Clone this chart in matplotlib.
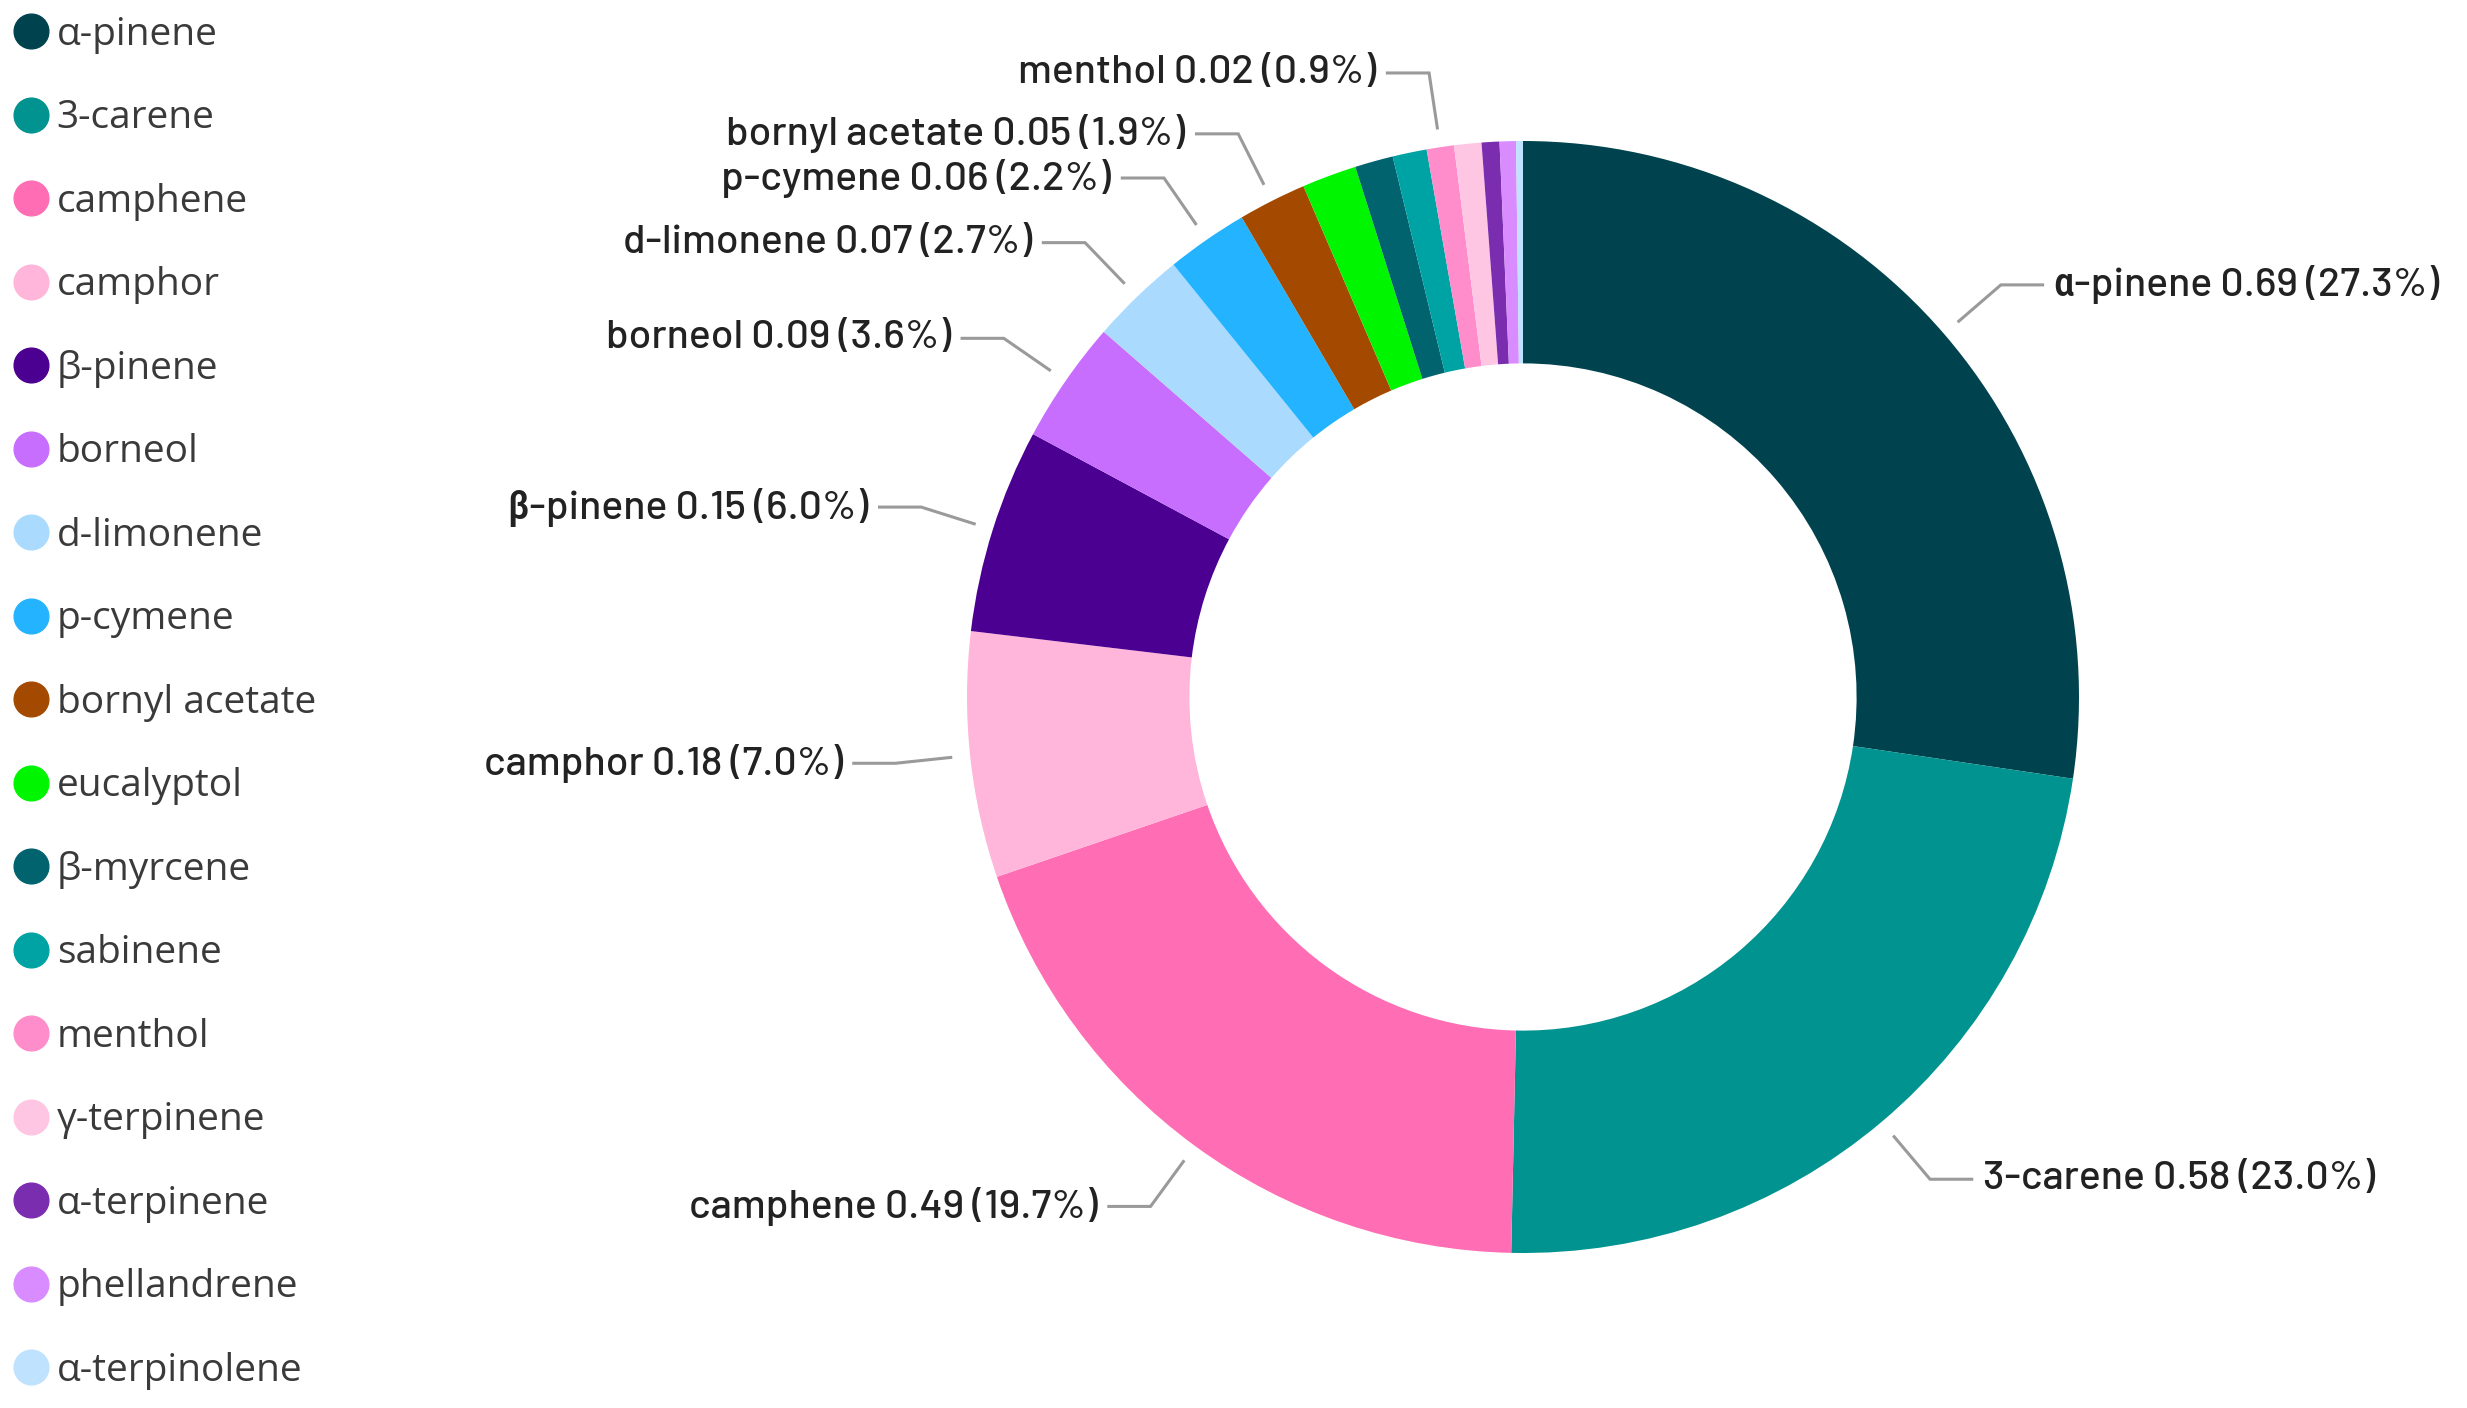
import numpy as np
import matplotlib
matplotlib.use("Agg")
import matplotlib.pyplot as plt
from matplotlib.lines import Line2D

names = ["α-pinene", "3-carene", "camphene", "camphor", "β-pinene", "borneol",
         "d-limonene", "p-cymene", "bornyl acetate", "eucalyptol", "β-myrcene",
         "sabinene", "menthol", "γ-terpinene", "α-terpinene", "phellandrene",
         "α-terpinolene"]
values = [0.69, 0.58, 0.49, 0.18, 0.15, 0.09, 0.07, 0.06, 0.05, 0.04, 0.028,
          0.025, 0.02, 0.02, 0.013, 0.012, 0.005]
value_labels = ["0.69", "0.58", "0.49", "0.18", "0.15", "0.09", "0.07", "0.06",
                "0.05", None, None, None, "0.02", None, None, None, None]
pct_labels = ["27.3%", "23.0%", "19.7%", "7.0%", "6.0%", "3.6%", "2.7%", "2.2%",
              "1.9%", None, None, None, "0.9%", None, None, None, None]
colors = ["#00434F", "#00938F", "#FF6EB4", "#FFB6DA", "#4B0092", "#C86EFF",
          "#AADBFF", "#24B4FF", "#A34A00", "#00F500", "#00636E", "#00A3A3",
          "#FF8CCB", "#FFC6E4", "#7A2DAF", "#D98CFF", "#BFE2FF"]

W, H = 2467, 1408
cx, cy, R = 1523, 697, 556

fig = plt.figure(figsize=(W / 100, H / 100), dpi=100)
fig.set_facecolor("white")
ax = fig.add_axes([0, 0, 1, 1])

wedges, _ = ax.pie(values, colors=colors, startangle=90, counterclock=False,
                   radius=1, wedgeprops=dict(width=0.4, linewidth=0),
                   normalize=True)
# pie() resets limits and aspect, so put the donut where the reference has it
ax.set_aspect("auto")
ax.set_xlim(-cx / R, (W - cx) / R)
ax.set_ylim(-(H - cy) / R, cy / R)
ax.axis("off")

label_font = ["Barlow", "Roboto Condensed", "DejaVu Sans"]
for w, name, v, p in zip(wedges, names, value_labels, pct_labels):
    if v is None:
        continue
    ang = np.deg2rad((w.theta1 + w.theta2) / 2)
    x0, y0 = 1.035 * np.cos(ang), 1.035 * np.sin(ang)
    x1, y1 = 1.135 * np.cos(ang), 1.135 * np.sin(ang)
    side = 1 if np.cos(ang) >= 0 else -1
    x2 = x1 + side * 0.075
    ax.plot([x0, x1, x2], [y0, y1, y1], color="#9a9a9a", lw=2.2,
            solid_joinstyle="miter")
    ax.text(x2 + side * 0.02, y1, f"{name} {v} ({p})",
            ha="left" if side > 0 else "right", va="center",
            fontsize=29.5, fontweight="medium", color="#222222",
            family=label_font)

handles = [Line2D([], [], marker="o", linestyle="", markersize=25,
                  markerfacecolor=c, markeredgecolor=c) for c in colors]
leg = fig.legend(handles, names, loc="upper left", bbox_to_anchor=(0.0, 0.998),
                 frameon=False, labelspacing=1.17, handletextpad=0.18,
                 handlelength=0.95, borderaxespad=0.0, borderpad=0.33,
                 prop={"family": ["Open Sans", "DejaVu Sans"], "size": 28})
for t in leg.get_texts():
    t.set_color("#3a3a3a")

fig.savefig("out.png", dpi=100, facecolor="white")
